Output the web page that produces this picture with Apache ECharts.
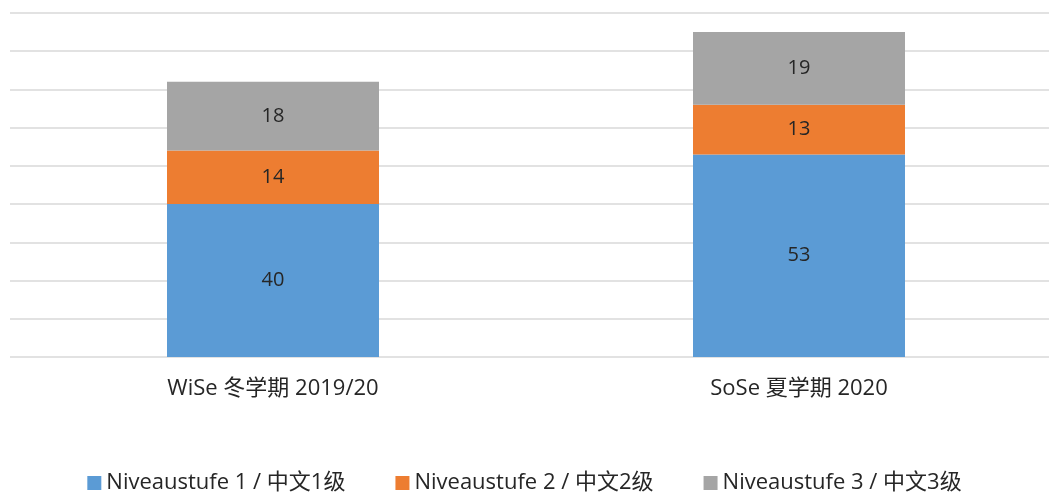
<!DOCTYPE html>
<html><head><meta charset="utf-8">
<script src="https://cdn.jsdelivr.net/npm/echarts@6/dist/echarts.min.js"></script>
<style>html,body{margin:0;padding:0;background:#fff}#c{width:1049px;height:493px}</style>
</head><body><div id="c"></div>
<script>
const categories = ['WiSe 冬学期 2019/20', 'SoSe 夏学期 2020'];
const seriesNames = ['Niveaustufe 1 / 中文1级', 'Niveaustufe 2 / 中文2级', 'Niveaustufe 3 / 中文3级'];
const level1 = [40, 53];
const level2 = [14, 13];
const level3 = [18, 19];
const colors = ['#5B9BD5', '#ED7D31', '#A5A5A5'];
const FONT = '"Open Sans", "Noto Sans CJK SC", sans-serif';
const chart = echarts.init(document.getElementById('c'));
const mk = (name, data, color) => ({
  name, type: 'bar', stack: 'total', data, barWidth: 212,
  itemStyle: { color },
  label: { show: true, position: 'inside', color: '#262626', fontSize: 20, fontFamily: FONT },
  emphasis: { disabled: true }
});
chart.setOption({
  animation: false,
  textStyle: { fontFamily: FONT },
  grid: { left: 10, width: 1052, top: 13, bottom: 136, containLabel: false, outerBoundsMode: 'none' },
  xAxis: {
    type: 'category', data: categories,
    axisLine: { show: false }, axisTick: { show: false },
    axisLabel: { color: '#262626', fontSize: 22, fontFamily: FONT, margin: 21 }
  },
  yAxis: {
    type: 'value', min: 0, max: 90, interval: 10,
    axisLabel: { show: false }, axisLine: { show: false }, axisTick: { show: false },
    splitLine: { lineStyle: { color: '#D9D9D9', width: 1.5 } }
  },
  legend: {
    top: 467, left: 'center', itemWidth: 14, itemHeight: 14, itemGap: 50,
    icon: 'rect',
    textStyle: { color: '#262626', fontSize: 22, fontFamily: FONT },
    data: seriesNames
  },
  series: [mk(seriesNames[0], level1, colors[0]), mk(seriesNames[1], level2, colors[1]), mk(seriesNames[2], level3, colors[2])]
});
</script></body></html>
